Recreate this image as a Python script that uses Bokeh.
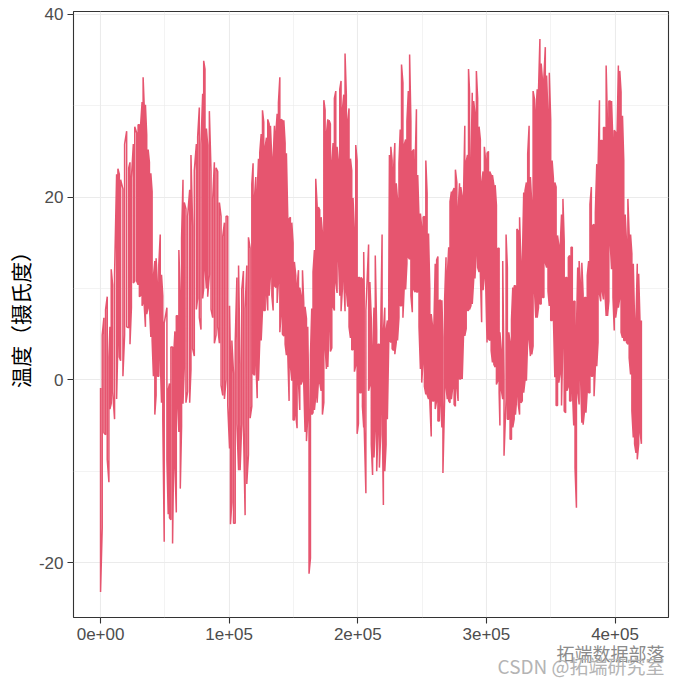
from bokeh.embed import file_html
from bokeh.models import FixedTicker, Range1d, Title
from bokeh.plotting import figure
from bokeh.resources import INLINE

# record index (10 min steps) and the upper / lower edge of the trace
# strip by strip
record_index = [
    0, 1300, 2600, 3900, 5200, 6500, 7300, 8300, 9400, 10900,
    12500, 13500, 14600, 15600, 17400, 18700, 20300, 21900, 22900, 24000,
    25500, 26600, 28100, 29200, 30200, 31200, 32300, 33100, 33900, 34900,
    35900, 37000, 38000, 39100, 40100, 41100, 42200, 43200, 44300, 45300,
    46400, 47400, 48400, 49500, 51600, 52600, 53600, 54700, 56000, 56800,
    57800, 58900, 59900, 60900, 62000, 63000, 64100, 65100, 66400, 67700,
    69300, 70300, 71600, 72900, 74500, 75500, 76800, 78100, 79400, 80200,
    81200, 82300, 83300, 84600, 85900, 87200, 88500, 89800, 91100, 92400,
    93700, 95000, 96300, 97600, 98900, 100300, 101000,
    102100, 103400, 104700, 106000, 107300, 108500, 109800, 111100, 112400, 113700,
    115000, 116300, 117600, 118600, 119700, 120700, 121800, 122800, 123800, 124900,
    125900, 126900, 128000, 129000, 130000, 131100, 132100, 133200, 134200, 135200,
    136300, 137300, 138300, 139400, 140400, 141400, 142500, 143500, 144500, 145600,
    146600, 147600, 148700, 149700, 150700, 151800, 152800, 153900, 154900, 155900,
    157000, 158000, 159000, 160100, 161100, 162100, 163200, 164200, 165200, 166300,
    167300, 168400, 169400, 170400, 171500, 172500, 173600, 174600, 175600, 176700,
    177700, 178700, 179800, 180800, 181800, 182900, 183900, 184900, 186000, 187000,
    188000, 189100, 190100, 191100, 192200, 193200, 194300, 195300, 196300, 197400,
    198400, 199500, 200500, 201500, 202600, 203600, 204600,
    205000, 206300, 208400, 209400, 210500, 211500, 212600, 213600, 214700, 215700,
    216800, 217800, 218900, 219900, 221000, 222000, 223000, 224100, 224600, 225700,
    226700, 227800, 228800, 229900, 230900, 232000, 233000, 234000, 235100, 236100,
    237200, 238200, 239300, 240300, 241300, 242400, 243500, 244500, 245600, 246600,
    247600, 248700, 249700, 250800, 251800, 252900, 253900, 255000, 256000, 257100,
    258100, 259200, 260200, 261300, 262300, 263400, 264400, 265400, 266200, 267500,
    268600, 269600, 270700, 271700, 272800, 273800, 274900, 275900, 277000, 278000,
    279100, 280100, 281200, 282200, 283200, 284300, 285300, 286100, 286900, 288000,
    289000, 290100, 291100, 292200, 293200, 294300, 295300, 296300, 297400, 298400,
    299500, 300500, 301600, 302600, 303700, 304700, 305800, 306800, 307800, 308900,
    309900,
    310500, 311600, 312700, 313700, 315300, 316300, 317400, 318400, 319500, 320500,
    321600, 322600, 323700, 324800, 325800, 326900, 327900, 329000, 330000, 331100,
    332100, 333200, 334200, 335300, 336300, 337400, 338400, 339500, 340500, 341600,
    342600, 343700, 344700, 345800, 346800, 347900, 348900, 350000, 351100, 352100,
    353200, 354200, 355300, 356300, 357400, 358400, 359500, 360500, 361600, 362600,
    363700, 364700, 365800, 366800, 367900, 368900, 370000, 371000, 372100, 373100,
    374200, 375200, 376300, 377400, 378400, 379500, 380500, 381600, 382600, 383700,
    384700, 385800, 386800, 387900, 388900, 390000, 391000, 392100, 393100, 394200,
    395200, 396300, 397300, 398400, 399400, 400500, 401500, 402600, 403700, 404700,
    405800, 406800, 407900, 408900, 410000, 411000, 412100, 413100, 414200, 415200,
    416300, 417300, 418400, 419400, 420500,
]

temp_high = [
    -0.9, 4.9, 6.8, 7.7, 9.1, 2.5, 5.8, 12.1, 10.4, 11.5,
    22.5, 23.1, 22.5, 21.9, 20.9, 25.8, 27.2, 23.2, 23.8, 22.1,
    25.8, 27.7, 27.0, 27.9, 27.9, 28.0, 30.4, 33.1, 30.2, 30.1,
    26.8, 25.2, 23.8, 22.6, 20.6, 11.3, 13.0, 13.3, 10.2, 12.6,
    15.9, 11.5, 9.2, 6.2, 7.9, -1.1, -0.4, 3.6, 3.6, 2.5,
    5.3, 7.0, 7.0, 14.2, 8.9, 15.5, 21.9, 19.4, 18.7, 17.9,
    20.8, 24.6, 16.8, 22.9, 25.8, 26.6, 29.8, 25.8, 31.3, 34.9,
    34.0, 27.5, 25.7, 29.4, 22.8, 19.8, 23.8, 23.2, 22.8, 19.4,
    17.9, 15.7, 17.2, 17.9, 17.9, 8.1, 2.3,
    4.3, 0.7, 4.1, 11.2, 12.5, 1.8, 9.9, 11.9, 7.8, 12.5,
    15.6, 14.4, 21.4, 23.7, 20.0, 22.2, 20.5, 24.2, 24.9, 26.9,
    29.5, 28.2, 25.5, 26.5, 28.5, 28.0, 27.8, 24.0, 24.2, 27.8,
    27.0, 29.1, 30.3, 33.1, 28.5, 28.4, 28.4, 25.9, 24.8, 17.6,
    17.6, 17.8, 17.2, 15.0, 12.9, 11.4, 10.3, 12.0, 10.1, 9.2,
    12.0, 8.4, 8.0, 6.7, 5.8, -4.0, 2.7, 7.8, 11.8, 14.2,
    22.0, 19.1, 18.9, 18.6, 17.8, 16.1, 30.6, 29.5, 26.9, 28.5,
    28.4, 28.0, 23.8, 25.9, 30.8, 31.6, 25.5, 24.0, 31.8, 32.7,
    29.5, 31.2, 35.7, 31.2, 28.4, 29.7, 24.2, 22.9, 19.9, 16.1,
    25.7, 24.0, 11.2, 11.2, 11.2, 11.0, 14.0,
    10.0, 7.6, 14.8, 10.7, 6.7, 3.0, 7.9, 13.6, 5.4, 3.9,
    3.9, 5.2, 15.9, 5.2, 7.9, 5.4, 6.5, 10.5, 24.6, 25.5,
    24.0, 23.0, 25.9, 21.5, 19.7, 23.7, 27.4, 34.5, 32.5, 25.7,
    26.3, 28.3, 31.6, 35.6, 28.3, 25.0, 25.2, 23.0, 29.6, 22.4,
    17.7, 18.2, 16.7, 17.8, 17.9, 24.0, 20.4, 16.0, 10.0, 7.2,
    5.9, 6.1, 12.7, 13.1, 13.5, 8.7, 8.7, 8.7, 4.7, 8.7,
    13.4, 11.4, 14.5, 19.5, 20.6, 20.6, 21.0, 23.0, 21.6, 18.5,
    21.5, 21.1, 20.0, 20.0, 27.8, 23.9, 24.6, 34.0, 31.6, 23.7,
    31.4, 30.5, 29.2, 33.8, 30.8, 27.7, 26.3, 21.5, 22.8, 25.5,
    23.9, 24.8, 25.0, 22.8, 22.4, 22.4, 21.3, 21.3, 19.1, 14.4,
    14.4,
    5.2, 3.2, 13.0, 0.5, 15.9, 12.3, 5.2, 4.1, 6.6, 10.1,
    10.3, 10.3, 16.5, 16.3, 17.8, 12.5, 12.5, 20.5, 20.7, 21.6,
    24.7, 27.8, 22.2, 19.2, 31.6, 30.7, 29.1, 31.8, 31.6, 37.3,
    34.6, 32.6, 33.1, 36.4, 33.3, 28.9, 33.6, 28.4, 24.0, 22.0,
    21.6, 21.1, 15.8, 14.7, 14.7, 18.1, 19.8, 15.2, 11.2, 11.2,
    13.4, 13.6, 14.5, 14.5, 8.6, 8.6, 5.4, 12.3, 13.0, 10.5,
    12.8, 9.4, 9.0, 9.0, 11.4, 13.0, 19.2, 21.1, 16.9, 17.0,
    18.3, 23.6, 23.1, 30.6, 26.2, 26.2, 27.6, 27.6, 34.4, 27.6,
    30.5, 30.5, 30.5, 25.8, 27.3, 27.1, 26.2, 34.4, 33.8, 31.5,
    28.9, 24.0, 18.1, 15.2, 19.8, 15.9, 15.9, 13.8, 12.7, 6.5,
    6.5, 12.7, 11.6, 6.5, 6.5,
]

temp_low = [
    -23.2, -16.2, -5.8, -6.0, -8.7, -11.2, -3.2, -2.6, -1.3, -4.3,
    -2.1, 4.2, 2.5, 2.1, 0.4, 4.9, 5.8, 5.7, 3.9, 7.9,
    10.6, 10.8, 10.8, 10.4, 9.1, 9.2, 8.1, 8.5, 8.3, 5.8,
    7.2, 7.9, 8.1, 4.7, 4.3, 0.4, -3.8, -1.7, 0.4, 0.4,
    2.5, -2.5, -4.3, -17.7, -8.7, -14.7, -15.1, -15.3, -17.9, -9.1,
    -9.1, -14.5, -2.6, -5.7, -11.9, -5.1, -2.6, 1.3, -2.5, -1.3,
    -2.5, 1.1, 3.4, 2.6, 7.7, 8.9, 6.8, 5.5, 8.9, 10.0,
    12.3, 10.0, 9.1, 11.5, 7.7, 6.8, 4.0, 4.9, 5.8, 4.0,
    -0.6, -1.7, -2.1, 0.0, -2.8, -7.5, -15.8,
    -13.4, -15.7, -15.7, -4.8, -9.9, -9.9, -4.8, -5.0, -14.8, -11.4,
    -8.2, -4.2, -2.9, 0.7, 0.5, 2.2, -2.0, -0.1, 4.3, 4.3,
    7.6, 7.6, 7.6, 9.5, 7.6, 9.2, 11.4, 9.2, 7.6, 10.3,
    10.1, 8.4, 10.7, 5.2, 7.3, 5.0, 4.8, 3.9, 2.7, 2.7,
    -2.3, 1.6, -0.1, -4.4, -4.4, -3.8, -5.3, -0.3, -3.3, -0.5,
    -0.1, -0.5, -5.7, -6.7, -4.0, -21.2, -19.5, -3.8, -3.6, -3.3,
    -1.8, -2.5, -0.1, -0.3, -1.2, -3.8, -2.5, 3.7, 1.2, 1.4,
    6.1, 3.1, 3.5, 8.0, 7.6, 10.7, 9.5, 13.7, 9.2, 7.5,
    9.9, 11.0, 7.5, 9.9, 8.0, 5.8, 4.6, 3.3, 3.3, 0.9,
    1.6, -5.9, -4.8, -1.4, -1.4, -2.9, -5.2,
    -5.2, -12.4, -1.2, -0.6, -7.1, -10.4, -8.5, -5.4, -10.0, -5.7,
    -9.6, -6.0, -2.9, -13.7, -10.0, -7.1, -4.3, 4.3, 4.3, 4.1,
    3.4, 3.2, 2.8, 4.1, 4.3, 6.8, 8.1, 8.1, 6.8, 10.1,
    9.9, 12.7, 13.4, 13.2, 9.2, 7.4, 9.9, 9.6, 9.6, 9.6,
    5.8, 1.2, -0.3, 2.1, -0.7, -1.6, -1.6, -2.1, -2.3, -6.2,
    -2.3, -2.3, -3.2, -2.3, -4.5, -4.5, -2.3, -5.2, -10.2, -2.1,
    -0.8, -2.1, -2.3, -2.5, -2.1, -0.8, -2.7, -2.9, -0.8, -2.3,
    0.1, 0.1, 0.1, 4.8, 4.8, 5.6, 7.6, 7.6, 7.7, 8.1,
    8.3, 10.9, 11.1, 14.0, 12.3, 11.8, 11.6, 6.3, 9.8, 11.2,
    10.1, 4.1, 4.5, 4.3, 3.2, 1.9, 1.7, 1.4, -0.5, -0.1,
    -1.4,
    -5.0, -1.1, -2.1, -8.3, -2.1, -4.3, -4.3, -6.5, -6.5, -5.2,
    -4.3, -3.8, -1.7, -2.7, -3.8, -2.5, -2.3, -1.4, -0.1, -0.1,
    4.5, 4.5, 2.6, 2.8, 3.7, 9.7, 6.8, 6.8, 7.9, 8.3,
    8.3, 9.0, 9.0, 12.8, 12.3, 9.7, 8.1, 6.5, 6.5, 6.8,
    0.3, -2.8, -2.8, -0.3, 0.8, -2.8, 4.6, -3.4, -3.6, -1.2,
    -0.7, -2.3, -2.3, -0.8, -5.0, -9.6, -14.0, -1.2, -2.7, 0.8,
    -4.7, -4.9, -3.4, -3.6, -1.2, -1.4, -1.4, 0.4, 0.4, -1.8,
    1.4, 1.5, 4.1, 9.4, 8.6, 9.7, 8.8, 9.7, 7.0, 7.0,
    8.6, 14.9, 12.1, 9.0, 5.4, 6.8, 7.9, 7.9, 9.0, 5.2,
    4.6, 4.3, 4.3, 4.1, 3.9, 2.4, 0.6, -3.4, -6.3, -7.0,
    -8.0, -8.7, -7.0, -5.6, -7.0,
]

x_ticks = [0, 100000, 200000, 300000, 400000]
x_tick_labels = ["0e+00", "1e+05", "2e+05", "3e+05", "4e+05"]
y_ticks = [-20, 0, 20, 40]
y_tick_labels = ["-20", "0", "20", "40"]

# walk the strips as one snake-shaped trace: high->low, low->high, ...
xs = []
ys = []
for i, (idx, hi, lo) in enumerate(zip(record_index, temp_high, temp_low)):
    xs += [idx, idx]
    ys += [hi, lo] if i % 2 == 0 else [lo, hi]

p = figure(width=672, height=681,
           x_range=Range1d(-21028, 441579),
           y_range=Range1d(-26.0, 40.3),
           output_backend="svg",
           toolbar_location=None,
           min_border_left=73, min_border_right=4,
           min_border_top=11, min_border_bottom=64)

p.line(xs, ys, line_color="#E6556F", line_width=1.5)

p.xaxis.ticker = FixedTicker(ticks=x_ticks,
                             minor_ticks=[50000, 150000, 250000, 350000])
p.xaxis.major_label_overrides = dict(zip(x_ticks, x_tick_labels))
p.yaxis.ticker = FixedTicker(ticks=y_ticks, minor_ticks=[-10, 10, 30])
p.yaxis.major_label_overrides = dict(zip(y_ticks, y_tick_labels))

for ax in (p.xaxis[0], p.yaxis[0]):
    ax.axis_line_color = None
    ax.major_tick_line_color = "#333333"
    ax.major_tick_line_width = 1.1
    ax.major_tick_in = 0
    ax.major_tick_out = 6
    ax.minor_tick_line_color = None
    ax.major_label_text_font = "Liberation Sans"
    ax.major_label_text_font_size = "17px"
    ax.major_label_text_color = "#4D4D4D"
    ax.major_label_standoff = 4

p.yaxis.axis_label = "温度（摄氏度）"
p.yaxis.axis_label_text_font = "Noto Sans CJK SC"
p.yaxis.axis_label_text_font_size = "21px"
p.yaxis.axis_label_text_font_style = "normal"
p.yaxis.axis_label_text_color = "#000000"
p.yaxis.axis_label_standoff = 1

p.grid.grid_line_color = "#EBEBEB"
p.grid.grid_line_width = 1.1
p.grid.minor_grid_line_color = "#EBEBEB"
p.grid.minor_grid_line_width = 0.6

p.outline_line_color = "#333333"
p.outline_line_width = 1.1
p.background_fill_color = "white"
p.border_fill_color = "white"

# watermark under the x axis, right aligned, pulled up over the gap
p.add_layout(Title(text="拓端数据部落", align="right", offset=4, standoff=-10,
                   text_font="Noto Sans CJK SC", text_font_size="18px",
                   text_font_style="normal", text_color="#8A8A8A"), "below")
p.add_layout(Title(text="CSDN @拓端研究室", align="right", offset=4, standoff=-22,
                   text_font="Noto Sans CJK SC", text_font_size="19px",
                   text_font_style="normal", text_color="#B4B4B4"), "below")

open("out.html", "w").write(file_html(p, INLINE))
